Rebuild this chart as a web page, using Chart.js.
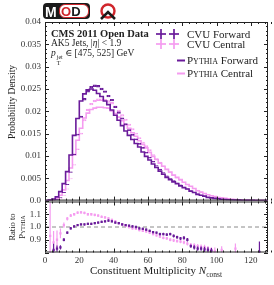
<!DOCTYPE html>
<html>
<head>
<meta charset="utf-8">
<script src="https://cdn.jsdelivr.net/npm/chart.js@4.4.0/dist/chart.umd.min.js"></script>
<style>
body{margin:0;background:#fff;width:274px;height:285px;overflow:hidden;position:relative;font-family:"Liberation Serif","DejaVu Serif",serif;color:#222}
canvas{position:absolute;left:0}
#cMain{top:0}
#cRatio{top:190px}
.t{position:absolute;white-space:nowrap;line-height:1}
.sc{font-variant:small-caps}
.rot{transform:translate(-50%,-50%) rotate(-90deg);text-align:center}
.ss{display:inline-flex;flex-direction:column;font-size:6px;line-height:6px;vertical-align:-3px;margin-left:1px}
svg{position:absolute;overflow:visible}
</style>
</head>
<body>
<canvas id="cMain" width="274" height="210"></canvas>
<canvas id="cRatio" width="274" height="95"></canvas>

<!-- logo -->
<div style="position:absolute;left:43px;top:3px;width:47px;height:16px;background:#1b1b1b;border-radius:4px"></div>
<div class="t" style="left:45px;top:4px;font:bold 14px 'Liberation Sans',sans-serif;color:#fff">M</div>
<div style="position:absolute;left:59px;top:4px;width:28px;height:12px;background:#fff;border-radius:6px;border:1px solid #d0262c"></div>
<div class="t" style="left:61px;top:4px;font:bold 13px 'Liberation Sans',sans-serif;color:#1b1b1b"><span style="color:#d0262c">O</span>D</div>
<svg style="left:98px;top:3px" width="20" height="18">
  <circle cx="10" cy="8" r="6.5" fill="none" stroke="#d0262c" stroke-width="2.4"/>
  <polyline points="3,16 10,9 17,16" fill="none" stroke="#1b1b1b" stroke-width="2.6"/>
</svg>

<!-- annotations -->
<div class="t" style="left:51px;top:28.5px;font-size:10.5px;font-weight:bold">CMS 2011 Open Data</div>
<div class="t" style="left:51px;top:38.5px;font-size:9.5px">AK5 Jets, |<i>η</i>| &lt; 1.9</div>
<div class="t" style="left:51px;top:49px;font-size:9.5px"><i>p</i><span class="ss"><span>jet</span><span>T</span></span> ∈ [475, 525] GeV</div>

<!-- legend -->
<svg style="left:156px;top:29px" width="26" height="10">
  <g stroke="#6a1b9a" stroke-width="1.7"><line x1="0" y1="5" x2="10" y2="5"/><line x1="5" y1="0" x2="5" y2="10"/><line x1="13" y1="5" x2="23" y2="5"/><line x1="18" y1="0" x2="18" y2="10"/></g>
</svg>
<svg style="left:156px;top:39px" width="26" height="10">
  <g stroke="#f59cf0" stroke-width="1.7"><line x1="0" y1="5" x2="10" y2="5"/><line x1="5" y1="0" x2="5" y2="10"/><line x1="13" y1="5" x2="23" y2="5"/><line x1="18" y1="0" x2="18" y2="10"/></g>
</svg>
<svg style="left:177px;top:59px" width="9" height="4"><line x1="0" y1="1.5" x2="8" y2="1.5" stroke="#6a1b9a" stroke-width="2"/></svg>
<svg style="left:177px;top:71.5px" width="9" height="4"><line x1="0" y1="1.5" x2="8" y2="1.5" stroke="#f59cf0" stroke-width="2"/></svg>
<div class="t" style="left:187px;top:28.5px;font-size:11px">CVU Forward</div>
<div class="t" style="left:187px;top:39px;font-size:11px">CVU Central</div>
<div class="t" style="left:187px;top:55px;font-size:11px"><span class="sc">Pythia</span> Forward</div>
<div class="t" style="left:187px;top:67.5px;font-size:11px"><span class="sc">Pythia</span> Central</div>

<!-- axis titles -->
<div class="t rot" style="left:13px;top:102px;font-size:9.5px">Probability Density</div>
<div class="t rot" style="left:17px;top:227px;font-size:8.5px;line-height:10px">Ratio to<br><span class="sc">Pythia</span></div>
<div class="t" style="left:156px;top:272px;transform:translate(-50%,-50%);font-size:11px">Constituent Multiplicity <i>N</i><sub style="font-size:7.5px">const</sub></div>

<script>
const DARK = "#6a1b9a";
const PINK = "#f59cf0";

/* bin centres, bin width 2 */
const multiplicity = [1,3,5,7,9,11,13,15,17,19,21,23,25,27,29,31,33,35,37,39,41,43,45,47,49,51,53,55,57,59,61,63,65,67,69,71,73,75,77,79,81,83,85,87,89,91,93,95,97,99,101,103,105,107,109,111,113,115,117,119,121,123,125,127,129];

const cvuForward = [
  0,0.00002,0.0001,0.0003,0.0007,0.0018,0.0036,0.0064,0.0103,0.0148,
  0.0188,0.0227,0.0245,0.0254,0.0257,0.0256,0.0250,0.0244,0.0234,0.0225,
  0.0210,0.0197,0.0184,0.0171,0.0158,0.0147,0.0137,0.0127,0.0118,0.0107,
  0.0096,0.0087,0.0078,0.0070,0.0062,0.0055,0.0049,0.0044,0.0039,0.0035,
  0.0030,0.0026,0.0022,0.0018,0.0015,0.0012,0.0010,0.0008,0.0006,0.0005,
  0.0004,0.0003,0.00025,0.0002,0.00015,0.00012,0.0001,0.00008,0.00006,0.00005,
  0.00004,0.00003,0.00002,0.00002,0.00001];

const pythiaForward = [
  0,0.00003,0.00012,0.00036,0.00083,0.0020,0.0038,0.0065,0.0102,0.0146,
  0.0184,0.0223,0.0239,0.0248,0.0250,0.0247,0.0240,0.0233,0.0223,0.0215,
  0.0203,0.0191,0.0180,0.0168,0.0156,0.0146,0.0137,0.0128,0.0120,0.0109,
  0.0099,0.0091,0.0082,0.0074,0.0066,0.0059,0.0052,0.0047,0.0042,0.0038,
  0.0033,0.0029,0.0026,0.0021,0.0018,0.0014,0.0012,0.0010,0.0007,0.0006,
  0.0005,0.0004,0.0003,0.00025,0.0002,0.00015,0.00012,0.0001,0.00008,0.00006,
  0.00005,0.00004,0.00003,0.00002,0.00002];

const cvuCentral = [
  0,0.00002,0.0001,0.0002,0.0005,0.0012,0.0026,0.0049,0.0080,0.0115,
  0.0150,0.0180,0.0203,0.0216,0.0223,0.0226,0.0226,0.0225,0.0222,0.0218,
  0.0210,0.0201,0.0191,0.0181,0.0170,0.0160,0.0150,0.0140,0.0130,0.0122,
  0.0113,0.0102,0.0093,0.0085,0.0077,0.0070,0.0063,0.0057,0.0051,0.0046,
  0.0041,0.0036,0.0031,0.0027,0.0023,0.0019,0.0016,0.0013,0.0011,0.0009,
  0.0007,0.0006,0.0005,0.0004,0.0003,0.00025,0.0002,0.00015,0.00012,0.0001,
  0.00008,0.00006,0.00005,0.00004,0.00003];

const pythiaCentral = [
  0,0.00002,0.00011,0.00022,0.00053,0.0012,0.0024,0.0045,0.0073,0.0103,
  0.0135,0.0162,0.0185,0.0196,0.0204,0.0207,0.0209,0.0209,0.0208,0.0207,
  0.0201,0.0195,0.0187,0.0179,0.0170,0.0162,0.0152,0.0144,0.0134,0.0126,
  0.0118,0.0108,0.0099,0.0092,0.0084,0.0077,0.0070,0.0064,0.0057,0.0052,
  0.0047,0.0041,0.0036,0.0032,0.0027,0.0022,0.0019,0.0016,0.0013,0.0011,
  0.0009,0.0007,0.0006,0.0005,0.0004,0.0003,0.00025,0.0002,0.00015,0.00012,
  0.0001,0.00008,0.00006,0.00005,0.00004];

/* CVU / Pythia (null = off panel) */
const ratioForward = [
  null,null,0.82,0.83,0.84,0.90,0.955,0.99,1.005,1.015,
  1.02,1.02,1.025,1.025,1.03,1.035,1.04,1.045,1.05,1.045,
  1.035,1.03,1.02,1.015,1.01,1.005,1.0,0.99,0.985,0.98,
  0.97,0.96,0.955,0.945,0.945,0.94,0.945,0.93,0.92,0.91,
  0.915,0.9,0.85,0.84,0.83,0.83,0.825,0.82,0.815,null,
  null,null,null,null,null,null,null,null,null,null,
  null,null,0.805,null,null];

const ratioCentral = [
  null,0.93,0.88,0.9,0.95,1.015,1.065,1.09,1.1,1.112,
  1.115,1.11,1.1,1.1,1.095,1.09,1.08,1.075,1.067,1.055,
  1.045,1.03,1.02,1.01,1.0,0.99,0.985,0.975,0.97,0.965,
  0.955,0.945,0.935,0.925,0.915,0.91,0.9,0.895,0.89,0.885,
  0.88,0.87,0.86,0.855,0.85,0.845,0.84,0.83,0.82,0.81,
  null,0.82,null,null,null,0.83,null,null,null,null,
  null,null,null,null,null];

/* relative statistical uncertainty of the CVU histograms */
const relErrForward = [
  0.5,0.3,0.06,0.03,0.02,0.014,0.011,0.01,0.009,0.008,
  0.008,0.008,0.008,0.008,0.008,0.008,0.008,0.008,0.008,0.008,
  0.008,0.008,0.008,0.008,0.008,0.008,0.008,0.008,0.009,0.009,
  0.009,0.009,0.009,0.011,0.011,0.011,0.011,0.013,0.013,0.013,
  0.016,0.016,0.016,0.02,0.02,0.02,0.025,0.025,0.025,0.04,
  0.04,0.04,0.04,0.06,0.06,0.06,0.06,0.06,0.1,0.1,
  0.1,0.1,0.1,0.1,0.1];

const relErrCentral = [
  0.5,0.28,0.1,0.08,0.04,0.02,0.013,0.011,0.009,0.009,
  0.009,0.009,0.009,0.009,0.009,0.009,0.009,0.009,0.009,0.009,
  0.009,0.009,0.009,0.009,0.009,0.009,0.009,0.009,0.01,0.01,
  0.01,0.01,0.01,0.012,0.012,0.012,0.012,0.014,0.014,0.014,
  0.017,0.017,0.017,0.02,0.02,0.02,0.025,0.025,0.025,0.035,
  0.035,0.035,0.035,0.05,0.05,0.05,0.05,0.05,0.09,0.09,
  0.09,0.09,0.09,0.09,0.09];

const xTicks = [0,20,40,60,80,100,120];
const ratioTicks = [0.8,0.9,1.0,1.1,1.2];

Chart.defaults.font.family = "'Liberation Serif','DejaVu Serif',serif";
Chart.defaults.color = "#333";

const binW = multiplicity[1] - multiplicity[0];

/* step histogram: left edges + closing right edge */
function stepPoints(vals){
  const pts = multiplicity.map((c,i)=>({x:c-binW/2, y:vals[i]}));
  pts.push({x:multiplicity[multiplicity.length-1]+binW/2, y:vals[vals.length-1]});
  return pts;
}
function boxes(vals, rel){
  return multiplicity.map((c,i)=>({x:c, y:[vals[i]*(1-rel[i]), vals[i]*(1+rel[i])]}));
}
function ratioPts(r){
  return multiplicity.map((c,i)=>({x:c, y:r[i]})).filter(p=>p.y!==null);
}
function ratioBars(r, rel){
  return multiplicity.map((c,i)=>({x:c, y:r[i]===null?null:[r[i]*(1-rel[i]), r[i]*(1+rel[i])]})).filter(p=>p.y!==null);
}

/* inward ticks on all four sides + frame */
const frameTicks = {
  id:"frameTicks",
  afterDraw(chart, args, o){
    const {ctx, chartArea:a, scales:{x,y}} = chart;
    ctx.save();
    ctx.strokeStyle = "#222";
    ctx.lineWidth = 1;
    ctx.beginPath();
    const nx = Math.round((x.max-x.min)/o.xMinor);
    for(let i=0;i<=nx;i++){
      const v = x.min + i*o.xMinor;
      const len = (i % o.xEvery === 0) ? 4 : 2;
      const px = Math.round(x.getPixelForValue(v))+0.5;
      ctx.moveTo(px,a.bottom); ctx.lineTo(px,a.bottom-len);
      ctx.moveTo(px,a.top); ctx.lineTo(px,a.top+len);
    }
    const ny = Math.round((y.max-y.min)/o.yMinor);
    for(let i=0;i<=ny;i++){
      const v = y.min + i*o.yMinor;
      const len = (i % o.yEvery === 0) ? 4 : 2;
      const py = Math.round(y.getPixelForValue(v))+0.5;
      ctx.moveTo(a.left,py); ctx.lineTo(a.left+len,py);
      ctx.moveTo(a.right,py); ctx.lineTo(a.right-len,py);
    }
    ctx.stroke();
    ctx.strokeRect(a.left+0.5, a.top+0.5, a.right-a.left-1, a.bottom-a.top-1);
    ctx.restore();
  }
};

const barStyle = {type:"bar", grouped:false, barPercentage:1, categoryPercentage:1, borderSkipped:false};

new Chart(document.getElementById("cMain"), {
  type:"bar",
  data:{datasets:[
    {...barStyle, data:boxes(cvuForward, relErrForward), backgroundColor:DARK, borderColor:DARK, borderWidth:1},
    {type:"line", data:stepPoints(pythiaForward), stepped:"after", borderColor:DARK, borderWidth:1.6, pointRadius:0, fill:false},
    {...barStyle, data:boxes(cvuCentral, relErrCentral), backgroundColor:"rgba(255,255,255,0)", borderColor:PINK, borderWidth:1},
    {type:"line", data:stepPoints(pythiaCentral), stepped:"after", borderColor:PINK, borderWidth:1.6, pointRadius:0, fill:false}
  ]},
  options:{
    responsive:false, animation:false,
    layout:{padding:{left:0, right:6, top:22, bottom:8.5}},
    plugins:{legend:{display:false}, tooltip:{enabled:false}, frameTicks:{xMinor:4, xEvery:5, yMinor:0.001, yEvery:5}},
    scales:{
      x:{type:"linear", min:0, max:130, offset:false, display:false},
      y:{type:"linear", min:0, max:0.04,
         grid:{display:false, drawTicks:false}, border:{display:false},
         ticks:{stepSize:0.005, padding:4, font:{size:9}, color:"#333", autoSkip:false,
                callback:v=> v===0 ? "0.0" : String(parseFloat(v.toFixed(3)))},
         afterFit(s){ s.width = 45; }}
    }
  },
  plugins:[frameTicks]
});

new Chart(document.getElementById("cRatio"), {
  type:"bar",
  data:{datasets:[
    {type:"scatter", data:ratioPts(ratioForward), pointStyle:"rect", pointRadius:1.6, backgroundColor:DARK, borderWidth:0},
    {...barStyle, barPercentage:0.35, data:ratioBars(ratioForward, relErrForward), backgroundColor:DARK, borderWidth:0},
    {type:"scatter", data:ratioPts(ratioCentral), pointStyle:"rect", pointRadius:1.6, backgroundColor:PINK, borderWidth:0},
    {...barStyle, barPercentage:0.35, data:ratioBars(ratioCentral, relErrCentral), backgroundColor:PINK, borderWidth:0},
    {type:"line", data:[{x:0,y:1},{x:130,y:1}], borderColor:"#8a8a8a", borderWidth:1, borderDash:[4,3], pointRadius:0}
  ]},
  options:{
    responsive:false, animation:false,
    layout:{padding:{left:0, right:6, top:11.5, bottom:0}},
    plugins:{legend:{display:false}, tooltip:{enabled:false}, frameTicks:{xMinor:4, xEvery:5, yMinor:0.02, yEvery:5}},
    scales:{
      x:{type:"linear", min:0, max:130, offset:false,
         grid:{display:false, drawTicks:false}, border:{display:false},
         afterBuildTicks(s){ s.ticks = xTicks.map(v=>({value:v})); },
         ticks:{padding:3, font:{size:9}, color:"#333", maxRotation:0, autoSkip:false},
         afterFit(s){ s.height = 32.5; }},
      y:{type:"linear", min:0.8, max:1.2,
         grid:{display:false, drawTicks:false}, border:{display:false},
         afterBuildTicks(s){ s.ticks = ratioTicks.map(v=>({value:v})); },
         ticks:{padding:4, font:{size:9}, color:"#333", autoSkip:false,
                callback:v=> (v===0.8 || v===1.2) ? "" : v.toFixed(1)},
         afterFit(s){ s.width = 45; }}
    }
  },
  plugins:[frameTicks]
});
</script>
</body>
</html>
